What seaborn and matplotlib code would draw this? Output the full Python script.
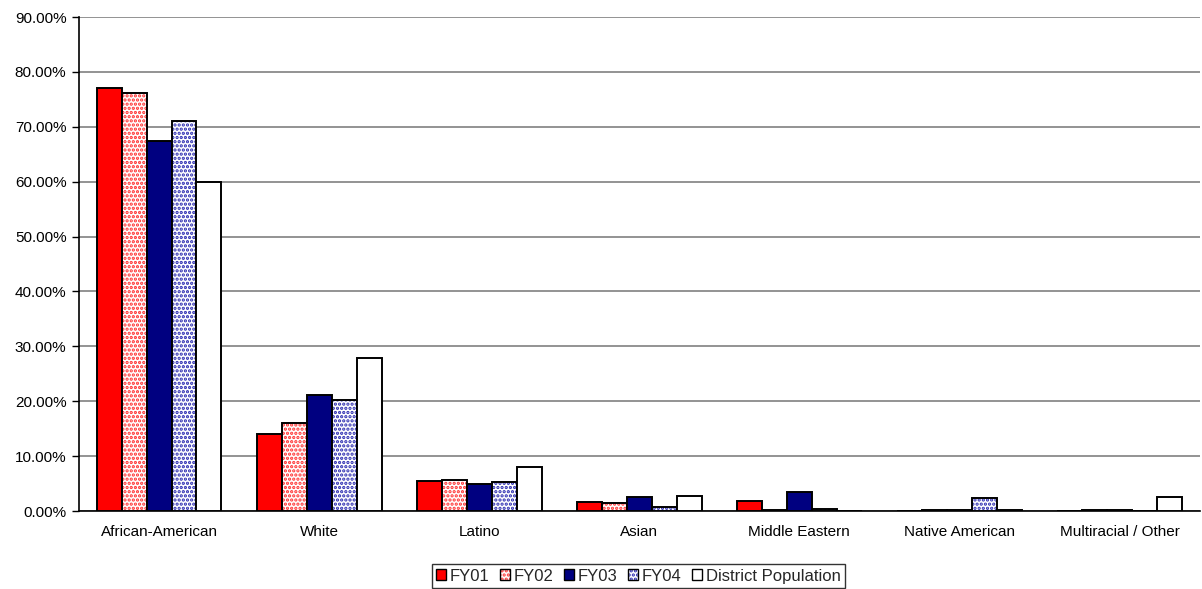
import numpy as np
import pandas as pd
import matplotlib
matplotlib.use("Agg")
import matplotlib.pyplot as plt
import seaborn as sns
from matplotlib.colors import to_rgba
from matplotlib.ticker import PercentFormatter, FixedLocator
from matplotlib.patches import Patch

categories = ["African-American", "White", "Latino", "Asian", "Middle Eastern",
              "Native American", "Multiracial / Other"]
series = ["FY01", "FY02", "FY03", "FY04", "District Population"]

fy01 = [77.1, 14.0, 5.5, 1.7, 1.9, 0.0, 0.0]
fy02 = [76.1, 16.0, 5.7, 1.4, 0.1, 0.2, 0.2]
fy03 = [67.5, 21.2, 4.9, 2.5, 3.5, 0.2, 0.2]
fy04 = [71.1, 20.2, 5.2, 0.7, 0.3, 2.4, 0.0]
district = [60.0, 27.8, 8.0, 2.8, 0.0, 0.2, 2.5]

values = [fy01, fy02, fy03, fy04, district]
y_ticks = [0, 10, 20, 30, 40, 50, 60, 70, 80, 90]

face = {"FY01": "#ff0000", "FY02": "#ffffff", "FY03": "#000080",
        "FY04": "#ffffff", "District Population": "#ffffff"}
hatch = {"FY02": ("....", "#ff3030"), "FY04": ("....", "#2a2ab0")}

df = pd.DataFrame({
    "group": categories * len(series),
    "series": np.repeat(series, len(categories)),
    "value": np.concatenate(values),
})

sns.set_theme(style="white")
plt.rcParams["font.family"] = ["Liberation Sans", "DejaVu Sans"]
plt.rcParams["hatch.linewidth"] = 1.6

fig = plt.figure(figsize=(12.02, 5.89), dpi=100)
ax = fig.add_axes([0.0657, 0.1324, 0.9323, 0.8387])

sns.barplot(data=df, x="group", y="value", hue="series", order=categories,
            hue_order=series, palette=[face[s] for s in series], width=0.78,
            saturation=1, edgecolor="black", linewidth=1.4, legend=False, ax=ax)

# bars come out grouped per series, in hue order
n = len(categories)
for i, s in enumerate(series):
    for p in ax.patches[i * n:(i + 1) * n]:
        p.set_zorder(3)
        if s in hatch:
            h, c = hatch[s]
            p.set_hatch(h)
            p._hatch_color = to_rgba(c)

ax.set_ylim(0, 90)
ax.set_xlim(-0.5, n - 0.5)
ax.yaxis.set_major_locator(FixedLocator(y_ticks))
ax.yaxis.set_major_formatter(PercentFormatter(decimals=2))
ax.grid(axis="y", color="#808080", linewidth=1.2, zorder=0)
ax.set_axisbelow(True)

ax.set_xlabel("")
ax.set_ylabel("")
ax.xaxis.set_minor_locator(FixedLocator(np.arange(-0.5, n, 1.0)))
ax.tick_params(axis="x", which="major", length=0, labelsize=11, pad=10, colors="black")
ax.tick_params(axis="x", which="minor", length=5, width=1, color="black", direction="out")
ax.tick_params(axis="y", length=5, width=1, color="black", direction="out",
               labelsize=11, pad=4, labelcolor="black", left=True)

for side in ["top", "right"]:
    ax.spines[side].set_visible(False)
for side in ["left", "bottom"]:
    ax.spines[side].set_color("black")
    ax.spines[side].set_linewidth(1.2)

handles = []
for s in series:
    h, c = hatch.get(s, (None, None))
    hp = Patch(facecolor=face[s], edgecolor="black", linewidth=1.0, hatch=h)
    if c:
        hp._hatch_color = to_rgba(c)
    handles.append(hp)
leg = fig.legend(handles, series, loc="center", bbox_to_anchor=(0.531, 0.022),
                 ncol=5, frameon=True, fancybox=False, edgecolor="black",
                 fontsize=12, handlelength=0.6, handleheight=0.6,
                 handletextpad=0.25, columnspacing=0.6, borderpad=0.25,
                 borderaxespad=0)
leg.get_frame().set_linewidth(1.0)

fig.savefig("out.png", dpi=100, facecolor="white")
